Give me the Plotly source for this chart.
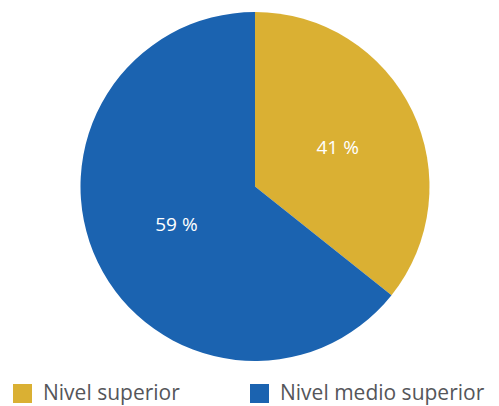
import plotly.graph_objects as go

# Categories and values (slice shares as drawn in the picture; printed labels as shown)
categories = ["Nivel superior", "Nivel medio superior"]
slice_shares = [35.7, 64.3]
printed_labels = ["41 %", "59 %"]
colors = ["#DAB033", "#1B63B0"]

W, H = 499, 406

fig = go.Figure()
fig.add_trace(go.Pie(
    labels=categories,
    values=slice_shares,
    text=printed_labels,
    texttemplate="%{text}",
    textposition="inside",
    insidetextorientation="horizontal",
    textfont=dict(family="Open Sans", size=19, color="white"),
    marker=dict(colors=colors, line=dict(width=0)),
    sort=False,
    direction="clockwise",
    rotation=0,
    showlegend=False,
    hoverinfo="label+text",
    domain=dict(x=[80 / W, 430 / W], y=[(H - 361) / H, (H - 12) / H]),
))

# Custom legend at the bottom
legend_x = [13, 250]
shapes = []
annotations = []
for i, (cat, col) in enumerate(zip(categories, colors)):
    x0 = legend_x[i]
    shapes.append(dict(type="rect", xref="paper", yref="paper",
                       x0=x0 / W, x1=(x0 + 19) / W,
                       y0=(H - 403) / H, y1=(H - 384) / H,
                       fillcolor=col, line=dict(width=0)))
    annotations.append(dict(xref="paper", yref="paper",
                            x=(x0 + 29) / W, y=(H - 392) / H,
                            xanchor="left", yanchor="middle",
                            text=cat, showarrow=False, borderpad=0,
                            font=dict(family="Open Sans", size=21, color="#55565A")))

fig.update_layout(
    width=W, height=H,
    margin=dict(l=0, r=0, t=0, b=0),
    paper_bgcolor="white",
    plot_bgcolor="white",
    shapes=shapes,
    annotations=annotations,
)

fig.write_html(
    "out.html",
    config={"displayModeBar": False},
    post_script="document.body.style.margin='0';document.body.style.overflow='hidden';",
)
